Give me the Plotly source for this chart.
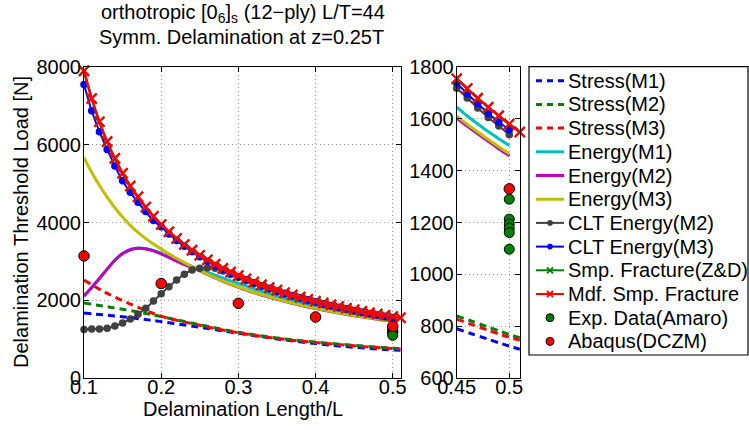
import plotly.graph_objects as go

# ---------------- data ----------------
ratio_fine = [0.10, 0.11, 0.12, 0.13, 0.14, 0.15, 0.16, 0.17, 0.18, 0.19,
              0.20, 0.21, 0.22, 0.23, 0.24, 0.25, 0.26, 0.27, 0.28, 0.29,
              0.30, 0.31, 0.32, 0.33, 0.34, 0.35, 0.36, 0.37, 0.38, 0.39,
              0.40, 0.41, 0.42, 0.43, 0.44, 0.45, 0.46, 0.47, 0.48, 0.49,
              0.50, 0.51]
ratio_to_50 = ratio_fine[:-1]
ratio_stress = [0.10, 0.125, 0.15, 0.175, 0.20, 0.25, 0.30, 0.35, 0.40, 0.45, 0.50, 0.51]

stress_m1 = [1670, 1625, 1575, 1515, 1450, 1305, 1150, 1005, 885, 790, 723, 711]
stress_m2 = [1930, 1850, 1770, 1680, 1580, 1370, 1175, 1030, 925, 840, 768, 755]
stress_m3 = [2520, 2230, 1990, 1780, 1590, 1355, 1162, 1018, 912, 827, 757, 746]

energy_m1 = [2110, 2330, 2560, 2800, 3030, 3200, 3305, 3342, 3330, 3280,
             3205, 3120, 3035, 2950, 2870, 2795, 2720, 2645, 2572, 2500,
             2430, 2362, 2296, 2228, 2166, 2107, 2050, 1995, 1943, 1894,
             1848, 1804, 1762, 1722, 1683, 1645, 1611, 1580, 1551, 1523,
             1497]
energy_m2 = [2110, 2330, 2560, 2800, 3030, 3200, 3300, 3335, 3320, 3270,
             3190, 3100, 3005, 2915, 2840, 2758, 2663, 2573, 2488, 2408,
             2333, 2263, 2198, 2136, 2078, 2023, 1971, 1921, 1873, 1828,
             1785, 1745, 1707, 1671, 1636, 1603, 1572, 1542, 1513, 1485,
             1458]
energy_m3 = [5667, 5290, 4950, 4650, 4380, 4140, 3925, 3745, 3585, 3445,
             3315, 3192, 3077, 2968, 2864, 2765, 2670, 2580, 2495, 2415,
             2340, 2270, 2205, 2143, 2085, 2030, 1978, 1928, 1880, 1835,
             1792, 1752, 1714, 1678, 1643, 1610, 1579, 1549, 1520, 1492,
             1465]
clt_energy_m2 = [1250, 1260, 1262, 1280, 1337, 1415, 1517, 1638, 1792, 1980,
                 2168, 2349, 2520, 2667, 2778, 2821, 2837, 2821, 2750, 2665,
                 2582, 2500, 2424, 2351, 2282, 2218, 2156, 2097, 2042, 1989,
                 1939, 1891, 1846, 1802, 1760, 1718, 1680, 1642, 1605, 1572,
                 1539]
clt_energy_m3 = [7550, 6875, 6335, 5880, 5455, 5075, 4775, 4520, 4280, 4050,
                 3890, 3705, 3540, 3390, 3250, 3120, 3005, 2893, 2790, 2697,
                 2610, 2527, 2449, 2375, 2306, 2241, 2178, 2119, 2064, 2010,
                 1960, 1912, 1867, 1823, 1780, 1738, 1697, 1659, 1622, 1588,
                 1558]
mdf_smp_fracture = [7900, 7190, 6590, 6080, 5650, 5265, 4940, 4660, 4400, 4160,
                    3950, 3760, 3590, 3435, 3290, 3160, 3040, 2925, 2820, 2725,
                    2635, 2550, 2470, 2395, 2325, 2260, 2195, 2135, 2080, 2025,
                    1975, 1927, 1881, 1837, 1795, 1755, 1717, 1680, 1645, 1612,
                    1580, 1549]
# simple fracture (Z&D) coincides with the modified one (hidden underneath)
smp_fracture = [7900, 7190, 6590, 6080, 5650, 5265, 4940, 4660, 4400, 4160,
                3950, 3760, 3590, 3435, 3290, 3160, 3040, 2925, 2820, 2725,
                2635, 2550, 2470, 2395, 2325, 2260, 2195, 2135, 2080, 2025,
                1975, 1927, 1881, 1837, 1795, 1755, 1717, 1680, 1645, 1612,
                1580, 1549]

exp_ratio = [0.5, 0.5, 0.5, 0.5, 0.5, 0.5]
exp_amaro = [1290, 1213, 1194, 1178, 1161, 1097]
abaqus_ratio = [0.1, 0.2, 0.3, 0.4, 0.5]
abaqus_dczm = [3140, 2430, 1920, 1570, 1330]

left_xticks = [0.1, 0.2, 0.3, 0.4, 0.5]
left_yticks = [0, 2000, 4000, 6000, 8000]
right_xticks = [0.45, 0.5]
right_yticks = [600, 800, 1000, 1200, 1400, 1600, 1800]

# ---------------- styling / layout geometry ----------------
FONT = "Liberation Sans, Arial, Helvetica, sans-serif"
FS = 20
W, H = 749, 430
PL, PR, PT, PB = 84, 520, 67, 378


def px_x(px):
    return (px - PL) / (PR - PL)


def px_y(py):
    return (PB - py) / (PB - PT)


BLUE, GREEN, RED = "#0000FF", "#008000", "#FF0000"
CYAN, MAG, YEL, GRAY = "#00BFBF", "#BF00BF", "#BFBF00", "#404040"
DASH = "7px,5px"

fig = go.Figure()


def add(name, xs, ys, mode, line=None, marker=None):
    for side in ("L", "R"):
        if side == "R":
            pts = [(a, b) for a, b in zip(xs, ys) if a >= 0.4499]
            xx = [p[0] for p in pts]
            yy = [p[1] for p in pts]
        else:
            xx, yy = xs, ys
        fig.add_trace(go.Scatter(
            x=xx, y=yy, name=name, mode=mode, line=line, marker=marker,
            xaxis="x" if side == "L" else "x2",
            yaxis="y" if side == "L" else "y2",
            showlegend=False, cliponaxis=False, hoverinfo="skip"))


add("Stress(M1)", ratio_stress, stress_m1, "lines",
    line=dict(color=BLUE, width=3, dash=DASH, shape="spline"))
add("Stress(M2)", ratio_stress, stress_m2, "lines",
    line=dict(color=GREEN, width=3, dash=DASH, shape="spline"))
add("Stress(M3)", ratio_stress, stress_m3, "lines",
    line=dict(color=RED, width=3, dash=DASH, shape="spline"))
add("Energy(M1)", ratio_to_50, energy_m1, "lines",
    line=dict(color=CYAN, width=3, shape="spline"))
add("Energy(M2)", ratio_to_50, energy_m2, "lines",
    line=dict(color=MAG, width=3, shape="spline"))
add("Energy(M3)", ratio_to_50, energy_m3, "lines",
    line=dict(color=YEL, width=3, shape="spline"))
add("CLT Energy(M2)", ratio_to_50, clt_energy_m2, "lines+markers",
    line=dict(color=GRAY, width=2, shape="spline"),
    marker=dict(color=GRAY, size=7.5, symbol="circle"))
add("CLT Energy(M3)", ratio_to_50, clt_energy_m3, "lines+markers",
    line=dict(color=BLUE, width=2, shape="spline"),
    marker=dict(color=BLUE, size=7.5, symbol="circle"))
add("Smp. Fracture(Z&D)", ratio_fine, smp_fracture, "lines+markers",
    line=dict(color=GREEN, width=2.4, shape="spline"),
    marker=dict(symbol="x-thin", size=10, line=dict(color=GREEN, width=2.2)))
add("Mdf. Smp. Fracture", ratio_fine, mdf_smp_fracture, "lines+markers",
    line=dict(color=RED, width=2.4, shape="spline"),
    marker=dict(symbol="x-thin", size=10, line=dict(color=RED, width=2.2)))
add("Exp. Data(Amaro)", exp_ratio, exp_amaro, "markers",
    marker=dict(color=GREEN, size=10, line=dict(color="black", width=1)))
add("Abaqus(DCZM)", abaqus_ratio, abaqus_dczm, "markers",
    marker=dict(color=RED, size=10.5, line=dict(color="black", width=1)))

axis_common = dict(
    showline=True, linecolor="black", linewidth=1, mirror="ticks",
    ticks="inside", ticklen=5, tickcolor="black", tickwidth=1,
    showgrid=True, gridcolor="#9a9a9a", gridwidth=1, griddash="1px,3px",
    zeroline=False, tickfont=dict(family=FONT, size=FS, color="black"),
)

shapes = []
annotations = []

# ---- manual legend (MATLAB-like) ----
legend_items = [
    ("Stress(M1)", "dash", BLUE, None),
    ("Stress(M2)", "dash", GREEN, None),
    ("Stress(M3)", "dash", RED, None),
    ("Energy(M1)", "solid", CYAN, None),
    ("Energy(M2)", "solid", MAG, None),
    ("Energy(M3)", "solid", YEL, None),
    ("CLT Energy(M2)", "solid", GRAY, "dot"),
    ("CLT Energy(M3)", "solid", BLUE, "dot"),
    ("Smp. Fracture(Z&D)", "solid", GREEN, "x"),
    ("Mdf. Smp. Fracture", "solid", RED, "x"),
    ("Exp. Data(Amaro)", None, GREEN, "circle"),
    ("Abaqus(DCZM)", None, RED, "circle"),
]
shapes.append(dict(type="rect", xref="paper", yref="paper",
                   x0=px_x(529), x1=px_x(748), y0=px_y(355), y1=px_y(66.7),
                   line=dict(color="black", width=1.2), fillcolor="white", layer="above"))
for i, (label, ls, col, mk) in enumerate(legend_items):
    yc = 80.7 + i * 23.7
    if ls is not None:
        shapes.append(dict(type="line", xref="paper", yref="paper",
                           x0=px_x(536), x1=px_x(564), y0=px_y(yc), y1=px_y(yc),
                           line=dict(color=col, width=3 if ls == "dash" else (2 if mk else 3),
                                     dash="6px,5px" if ls == "dash" else "solid")))
    if mk in ("dot", "circle"):
        r = 2.5 if mk == "dot" else 4
        shapes.append(dict(type="circle", xref="paper", yref="paper",
                           xsizemode="pixel", ysizemode="pixel",
                           xanchor=px_x(550), yanchor=px_y(yc),
                           x0=-r, x1=r, y0=-r, y1=r,
                           fillcolor=col,
                           line=dict(color=col if mk == "dot" else "black", width=1)))
    if mk == "x":
        for s in (1, -1):
            shapes.append(dict(type="line", xref="paper", yref="paper",
                               xsizemode="pixel", ysizemode="pixel",
                               xanchor=px_x(550), yanchor=px_y(yc),
                               x0=-3, x1=3, y0=-3 * s, y1=3 * s,
                               line=dict(color=col, width=1.8)))
    annotations.append(dict(text=label, xref="paper", yref="paper",
                            x=px_x(566), y=px_y(yc), xanchor="left", yanchor="middle",
                            showarrow=False, font=dict(family=FONT, size=FS, color="black")))

# ---- titles and axis labels ----
annotations += [
    dict(text="orthotropic [0<sub>6</sub>]<sub>s</sub> (12\u2212ply) L/T=44",
         xref="paper", yref="paper", x=px_x(243), y=px_y(14), xanchor="center",
         yanchor="middle", showarrow=False, font=dict(family=FONT, size=FS, color="black")),
    dict(text="Symm. Delamination at z=0.25T",
         xref="paper", yref="paper", x=px_x(241), y=px_y(37), xanchor="center",
         yanchor="middle", showarrow=False, font=dict(family=FONT, size=FS, color="black")),
    dict(text="Delamination Length/L",
         xref="paper", yref="paper", x=px_x(242.5), y=px_y(409), xanchor="center",
         yanchor="middle", showarrow=False, font=dict(family=FONT, size=FS, color="black")),
    dict(text="Delamination Threshold Load [N]", textangle=-90,
         xref="paper", yref="paper", x=px_x(21), y=px_y(222), xanchor="center",
         yanchor="middle", showarrow=False, font=dict(family=FONT, size=FS, color="black")),
]

fig.update_layout(
    width=W, height=H,
    margin=dict(l=PL, r=W - PR, t=PT, b=H - PB, pad=0),
    paper_bgcolor="white", plot_bgcolor="white",
    showlegend=False,
    font=dict(family=FONT, size=FS, color="black"),
    xaxis=dict(domain=[0, px_x(401)], range=[0.1, 0.5107], tickvals=left_xticks,
               ticktext=[f"{v:g}" for v in left_xticks], anchor="y",
               ticklabelstandoff=-9, **axis_common),
    yaxis=dict(range=[0, 8000], tickvals=left_yticks,
               ticktext=[str(v) for v in left_yticks], anchor="x",
               ticklabelstandoff=-2, **axis_common),
    xaxis2=dict(domain=[px_x(456.7), 1], range=[0.45, 0.5102], tickvals=right_xticks,
                ticktext=[f"{v:g}" for v in right_xticks], anchor="y2",
                ticklabelstandoff=-9, **axis_common),
    yaxis2=dict(range=[600, 1800], tickvals=right_yticks,
                ticktext=[str(v) for v in right_yticks], anchor="x2",
                ticklabelstandoff=-2, **axis_common),
    shapes=shapes,
    annotations=annotations,
)

fig.write_html("out.html")
